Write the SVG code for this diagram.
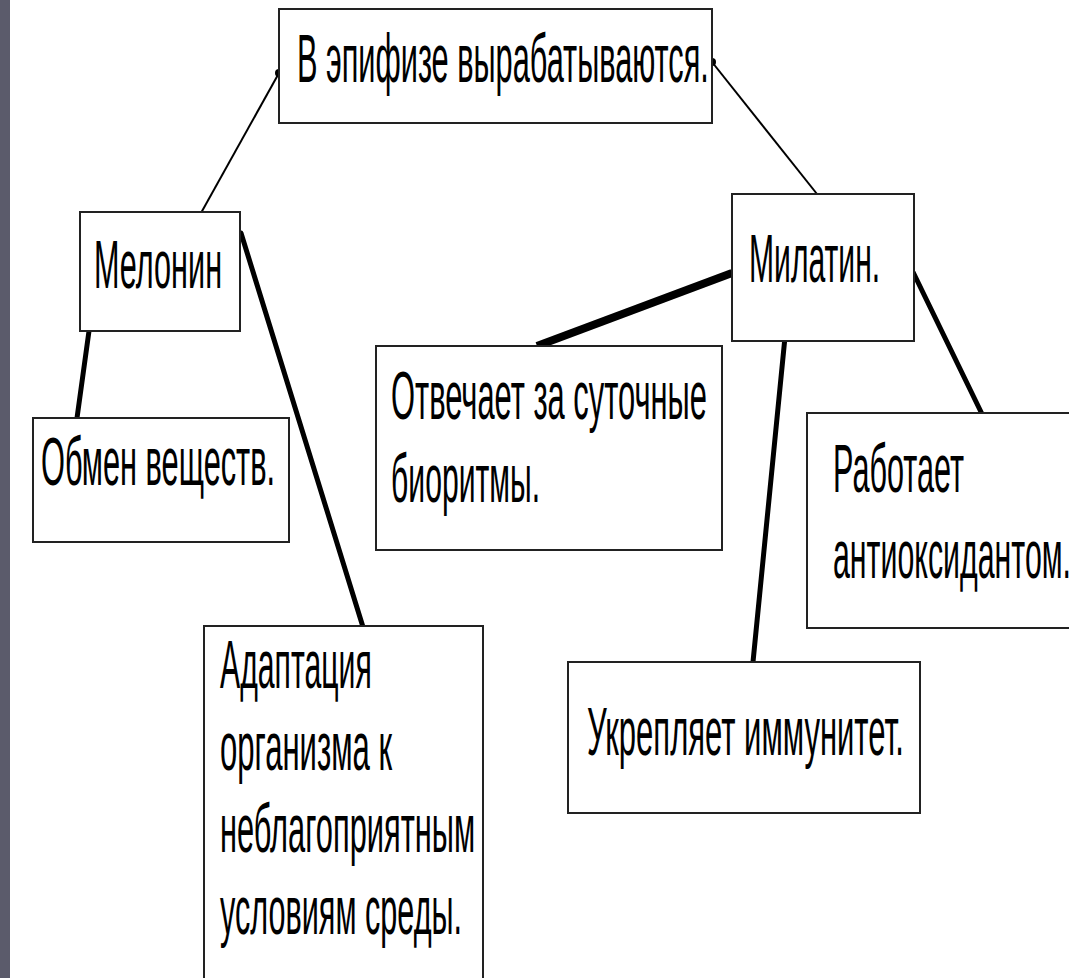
<svg xmlns="http://www.w3.org/2000/svg" width="1069" height="978" viewBox="0 0 1069 978">
<style>
.box{fill:#fff;stroke:#222;stroke-width:2}
.t{font-family:"Liberation Sans",Arial,sans-serif;font-size:68px;fill:#000}
.thin{stroke:#000;stroke-width:2;fill:none}
.thick{stroke:#000;stroke-width:5;fill:none;stroke-linecap:round}
</style>
<rect x="0" y="0" width="1069" height="978" fill="#fff"/>
<rect x="0" y="0" width="10" height="978" fill="#5b5b6b"/>
<g id="connectors">
<line class="thin" x1="279" y1="73" x2="201" y2="213"/>
<circle cx="279" cy="73" r="4"/>
<line class="thin" x1="712" y1="62" x2="817" y2="194"/>
<circle cx="712" cy="62" r="4"/>
<line class="thick" x1="89" y1="331" x2="77" y2="418"/>
<line class="thick" x1="241" y1="233" x2="363" y2="627"/>
<line stroke="#000" stroke-width="8" x1="732" y1="273" x2="537" y2="346"/>
<line class="thick" x1="785" y1="337" x2="753" y2="662"/>
<line class="thick" x1="913" y1="272" x2="982" y2="414"/>
</g>
<g id="node-top">
<rect class="box" x="279" y="9" width="433" height="114"/>
<text class="t" transform="translate(297,82) scale(0.44,1)" textLength="936" lengthAdjust="spacingAndGlyphs">В эпифизе вырабатываются.</text>
</g>
<g id="node-melonin">
<rect class="box" x="80" y="212" width="160" height="119"/>
<text class="t" transform="translate(94,288) scale(0.44,1)" textLength="291" lengthAdjust="spacingAndGlyphs">Мелонин</text>
</g>
<g id="node-milatin">
<rect class="box" x="732" y="194" width="182" height="147"/>
<text class="t" transform="translate(749,282) scale(0.44,1)" textLength="298" lengthAdjust="spacingAndGlyphs">Милатин.</text>
</g>
<g id="node-obmen">
<rect class="box" x="33" y="418" width="256" height="124"/>
<text class="t" transform="translate(41,485) scale(0.44,1)" textLength="532" lengthAdjust="spacingAndGlyphs">Обмен веществ.</text>
</g>
<g id="node-otvechaet">
<rect class="box" x="376" y="346" width="346" height="204"/>
<text class="t" transform="translate(391,419) scale(0.44,1)" textLength="718" lengthAdjust="spacingAndGlyphs">Отвечает за суточные</text>
<text class="t" transform="translate(391,502) scale(0.44,1)" textLength="339" lengthAdjust="spacingAndGlyphs">биоритмы.</text>
</g>
<g id="node-rabotaet">
<rect class="box" x="807" y="413" width="270" height="215"/>
<text class="t" transform="translate(833,492) scale(0.44,1)" textLength="298" lengthAdjust="spacingAndGlyphs">Работает</text>
<text class="t" transform="translate(833,578) scale(0.44,1)" textLength="541" lengthAdjust="spacingAndGlyphs">антиоксидантом.</text>
</g>
<g id="node-ukreplyaet">
<rect class="box" x="568" y="662" width="352" height="151"/>
<text class="t" transform="translate(587,755) scale(0.44,1)" textLength="720" lengthAdjust="spacingAndGlyphs">Укрепляет иммунитет.</text>
</g>
<g id="node-adaptacia">
<rect class="box" x="204" y="626" width="279" height="370"/>
<text class="t" transform="translate(220,688) scale(0.44,1)" textLength="345" lengthAdjust="spacingAndGlyphs">Адаптация</text>
<text class="t" transform="translate(220,770) scale(0.44,1)" textLength="391" lengthAdjust="spacingAndGlyphs">организма к</text>
<text class="t" transform="translate(220,852) scale(0.44,1)" textLength="580" lengthAdjust="spacingAndGlyphs">неблагоприятным</text>
<text class="t" transform="translate(220,934) scale(0.44,1)" textLength="550" lengthAdjust="spacingAndGlyphs">условиям среды.</text>
</g>
</svg>
